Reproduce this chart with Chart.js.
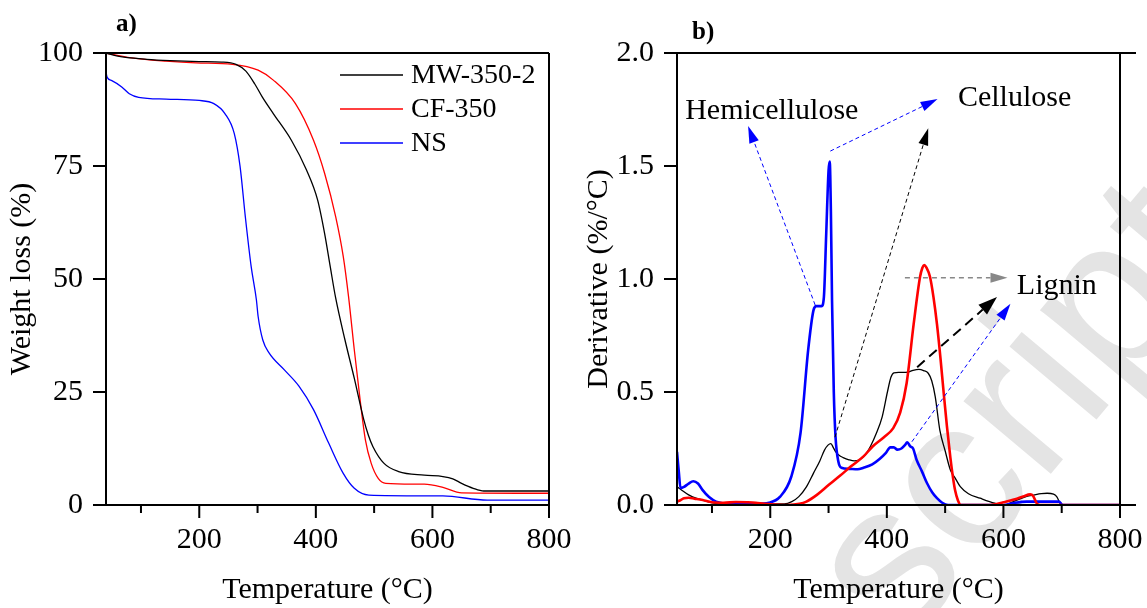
<!DOCTYPE html>
<html>
<head>
<meta charset="utf-8">
<script src="https://cdn.jsdelivr.net/npm/chart.js@4.4.1/dist/chart.umd.min.js"></script>
<style>
  html, body { margin: 0; padding: 0; background: #fff; }
  #wrap { position: relative; width: 1147px; height: 608px; overflow: hidden; }
  canvas { position: absolute; top: 0; }
  #tga { left: 0; }
  #dtg { left: 573px; }
</style>
</head>
<body>
<div id="wrap">
  <canvas id="tga" width="573" height="608"></canvas>
  <canvas id="dtg" width="574" height="608"></canvas>
</div>
<script>
// ---- a) TGA weight loss (%) ----
const mwTgaT = [40, 60, 110, 150, 200, 238, 263, 280, 295, 308, 327, 358, 384, 403, 415, 425, 434, 450, 466, 482, 490, 498, 517, 542, 586, 618, 635, 650, 670, 688, 800];
const mwTgaW = [100, 99.3, 98.6, 98.3, 98.1, 98.0, 97.5, 96.0, 93.2, 90.3, 86.6, 80.7, 74.1, 67.5, 60.1, 52.5, 45.8, 36.5, 28.0, 19.0, 15.5, 12.9, 9.2, 7.4, 6.6, 6.3, 5.8, 4.8, 3.7, 3.1, 3.1];

const cfTgaT = [40, 80, 143, 194, 257, 301, 327, 365, 396, 415, 434, 447, 456, 466, 476, 485, 495, 507, 520, 586, 618, 650, 800];
const cfTgaW = [100, 99.0, 98.2, 97.8, 97.5, 96.2, 94.0, 88.8, 80.7, 73.4, 63.8, 55.0, 46.2, 34.3, 23.2, 14.4, 9.2, 5.9, 4.8, 4.6, 3.9, 2.7, 2.6];

const nsTgaT = [40, 42, 50, 67, 80, 96, 143, 200, 225, 244, 260, 270, 279, 289, 298, 301, 309, 320, 346, 371, 396, 422, 447, 466, 491, 618, 694, 800];
const nsTgaW = [95.8, 94.6, 93.9, 92.5, 91.0, 90.2, 89.8, 89.5, 88.8, 86.6, 82.2, 74.9, 63.8, 52.8, 45.4, 41.7, 36.5, 33.6, 29.9, 26.3, 21.1, 13.7, 7.0, 3.7, 2.2, 2.0, 1.1, 1.1];

// ---- b) DTG derivative (%/°C) ----
const mwDtgT = [40, 46, 60, 75, 97, 110, 150, 200, 224, 237, 249, 262, 274, 285, 293, 299, 304, 308, 312, 318, 325, 335, 344, 353, 363, 372, 382, 392, 401, 407, 412, 420, 428, 436, 445, 455, 463, 471, 477, 483, 491, 500, 509, 517, 526, 540, 560, 585, 600, 623, 640, 652, 665, 675, 686, 692, 697, 703, 800];
const mwDtgD = [0.08, 0.07, 0.045, 0.028, 0.012, 0.006, 0.005, 0.005, 0.005, 0.015, 0.037, 0.08, 0.14, 0.195, 0.243, 0.265, 0.272, 0.255, 0.236, 0.22, 0.21, 0.2, 0.195, 0.2, 0.222, 0.26, 0.317, 0.39, 0.5, 0.565, 0.585, 0.587, 0.587, 0.588, 0.596, 0.6, 0.595, 0.583, 0.55, 0.48, 0.33, 0.24, 0.155, 0.12, 0.081, 0.05, 0.03, 0.008, 0.0, 0.022, 0.038, 0.044, 0.05, 0.052, 0.048, 0.035, 0.008, 0.0, 0.0];

const cfDtgT = [40, 45, 52, 60, 70, 84, 100, 120, 141, 160, 175, 190, 210, 230, 250, 262, 280, 300, 320, 338, 360, 376, 395, 411, 423, 434, 446, 457, 461, 464, 468, 474, 480, 486, 492, 497, 503, 509, 513, 517, 522, 527, 540, 577, 600, 620, 634, 646, 651, 657, 663, 700, 800];
const cfDtgD = [0.015, 0.02, 0.03, 0.032, 0.028, 0.022, 0.012, 0.01, 0.013, 0.012, 0.01, 0.005, 0.002, 0.0, 0.005, 0.015, 0.045, 0.088, 0.13, 0.17, 0.215, 0.26, 0.30, 0.34, 0.41, 0.54, 0.80, 1.01, 1.05, 1.062, 1.05, 1.01, 0.92, 0.80, 0.65, 0.51, 0.35, 0.21, 0.13, 0.066, 0.02, 0.0, 0.0, 0.0, 0.012, 0.025, 0.038, 0.047, 0.04, 0.008, 0.0, 0.0, 0.0];

const nsDtgT = [40, 43, 46, 52, 60, 68, 76, 84, 95, 107, 130, 175, 198, 217, 236, 252, 265, 274, 279, 288, 292, 296, 300, 302, 304, 306, 309, 312, 317, 322, 335, 350, 360, 375, 388, 398, 406, 412, 418, 425, 431, 435, 440, 445, 451, 460, 469, 478, 486, 495, 505, 600, 620, 640, 695, 702, 710, 800];
const nsDtgD = [0.235, 0.15, 0.075, 0.08, 0.095, 0.105, 0.095, 0.066, 0.035, 0.015, 0.005, 0.005, 0.010, 0.037, 0.125, 0.32, 0.685, 0.86, 0.88, 0.88, 0.92, 1.2, 1.48, 1.52, 1.3, 0.9, 0.5, 0.3, 0.19, 0.165, 0.16, 0.158, 0.165, 0.18, 0.205, 0.23, 0.255, 0.255, 0.245, 0.25, 0.265, 0.277, 0.26, 0.25, 0.20, 0.15, 0.096, 0.055, 0.03, 0.01, 0.0, 0.0, 0.01, 0.015, 0.015, 0.0, 0.0, 0.0];

const xTicks = [100, 200, 300, 400, 500, 600, 700, 800];
const tgaTicks = [0, 25, 50, 75, 100];
const dtgTicks = [0, 0.5, 1.0, 1.5, 2.0];

// annotations on panel b (data units)
const arrows = [
  { from: [277, 0.885], to: [162, 1.677], color: '#0000ff', width: 1, dash: [4, 3] },
  { from: [303, 1.566], to: [487, 1.796], color: '#0000ff', width: 1, dash: [4, 3] },
  { from: [311, 0.30], to: [471, 1.667], color: '#000000', width: 1, dash: [4, 3] },
  { from: [431, 1.006], to: [607, 1.006], color: '#888888', width: 1.5, dash: [5, 4] },
  { from: [452, 0.61], to: [589, 0.92], color: '#000000', width: 2, dash: [10, 6] },
  { from: [443, 0.28], to: [612, 0.89], color: '#0000ff', width: 1, dash: [4, 3] }
];
const notes = [
  { text: 'Hemicellulose', at: [54, 1.708] },
  { text: 'Cellulose', at: [522, 1.765] },
  { text: 'Lignin', at: [623, 0.934] }
];

const SERIF = '"Liberation Serif", "Times New Roman", serif';
Chart.defaults.font.family = SERIF;
Chart.defaults.color = '#000';

const pts = (xs, ys) => xs.map((x, i) => ({ x, y: ys[i] }));

function series(label, xs, ys, color, width) {
  return {
    label, data: pts(xs, ys), borderColor: color, backgroundColor: color,
    borderWidth: width, pointRadius: 0, fill: false, cubicInterpolationMode: 'monotone'
  };
}

// box, x ticks (major/minor) and panel letter
const frame = {
  id: 'frame',
  afterDraw(chart, args, opts) {
    const { ctx, chartArea: a, scales } = chart;
    const ext = opts.overhang || 0;
    ctx.save();
    ctx.strokeStyle = '#000';
    ctx.lineWidth = 2;
    ctx.beginPath();
    ctx.moveTo(a.left, a.top); ctx.lineTo(a.right + ext, a.top);
    ctx.moveTo(a.left, a.bottom); ctx.lineTo(a.right + ext, a.bottom);
    ctx.moveTo(a.left, a.top); ctx.lineTo(a.left, a.bottom);
    ctx.moveTo(a.right, a.top); ctx.lineTo(a.right, a.bottom);
    xTicks.forEach(v => {
      const px = scales.x.getPixelForValue(v);
      ctx.moveTo(px, a.bottom);
      ctx.lineTo(px, a.bottom + (v % 200 === 0 ? 13 : 8));
    });
    ctx.stroke();
    ctx.fillStyle = '#000';
    ctx.font = 'bold 25px ' + SERIF;
    ctx.fillText(opts.label, a.left + opts.labelDx, opts.labelY);
    ctx.restore();
  }
};

const insideLegend = {
  id: 'insideLegend',
  afterDraw(chart) {
    const { ctx, chartArea: a } = chart;
    ctx.save();
    ctx.font = '28px ' + SERIF;
    ctx.textBaseline = 'middle';
    chart.data.datasets.forEach((ds, i) => {
      const y = a.top + 22 + i * 34;
      const x0 = a.right - 209;
      ctx.strokeStyle = ds.borderColor;
      ctx.lineWidth = 1.3;
      ctx.beginPath(); ctx.moveTo(x0, y); ctx.lineTo(x0 + 63, y); ctx.stroke();
      ctx.fillStyle = '#000';
      ctx.fillText(ds.label, x0 + 71, y + 1);
    });
    ctx.restore();
  }
};

const watermark = {
  id: 'watermark',
  beforeDraw(chart) {
    const ctx = chart.ctx;
    ctx.save();
    ctx.fillStyle = '#e4e4e4';
    ctx.font = '215px "Liberation Sans", Arial, sans-serif';
    ctx.translate(330, 650);
    ctx.rotate(-50 * Math.PI / 180);
    ctx.fillText('script', 0, 0);
    ctx.restore();
  }
};

const annotate = {
  id: 'annotate',
  afterDatasetsDraw(chart) {
    const { ctx, scales: { x, y } } = chart;
    ctx.save();
    arrows.forEach(ar => {
      const x1 = x.getPixelForValue(ar.from[0]), y1 = y.getPixelForValue(ar.from[1]);
      const x2 = x.getPixelForValue(ar.to[0]), y2 = y.getPixelForValue(ar.to[1]);
      const ang = Math.atan2(y2 - y1, x2 - x1);
      const L = ar.width > 1.6 ? 19 : 17, H = ar.width > 1.6 ? 6.5 : 5;
      const bx = x2 - L * Math.cos(ang), by = y2 - L * Math.sin(ang);
      ctx.strokeStyle = ar.color;
      ctx.fillStyle = ar.color;
      ctx.lineWidth = ar.width;
      ctx.setLineDash(ar.dash);
      ctx.beginPath(); ctx.moveTo(x1, y1); ctx.lineTo(bx, by); ctx.stroke();
      ctx.setLineDash([]);
      ctx.beginPath();
      ctx.moveTo(x2, y2);
      ctx.lineTo(bx + H * Math.sin(ang), by - H * Math.cos(ang));
      ctx.lineTo(bx - H * Math.sin(ang), by + H * Math.cos(ang));
      ctx.closePath(); ctx.fill();
    });
    ctx.fillStyle = '#000';
    ctx.font = '30px ' + SERIF;
    ctx.textBaseline = 'alphabetic';
    notes.forEach(n => ctx.fillText(n.text, x.getPixelForValue(n.at[0]), y.getPixelForValue(n.at[1])));
    ctx.restore();
  }
};

function xAxis() {
  return {
    type: 'linear', min: 40, max: 800,
    afterBuildTicks: s => { s.ticks = xTicks.map(v => ({ value: v })); },
    afterFit: s => { s.height = 103; s.paddingLeft = 0; s.paddingRight = 0; },
    grid: { display: true, drawOnChartArea: false, drawTicks: false },
    border: { display: true, color: '#000', width: 2 },
    ticks: { padding: 17, maxRotation: 0, autoSkip: false, font: { size: 30 },
      callback: v => (v % 200 === 0 ? String(v) : '') },
    title: { display: true, text: 'Temperature (°C)', font: { size: 30 }, padding: { top: 0, bottom: 0 } }
  };
}

function yAxis(vals, width, title, pad, fmt) {
  return {
    type: 'linear', min: vals[0], max: vals[vals.length - 1],
    afterBuildTicks: s => { s.ticks = vals.map(v => ({ value: v })); },
    afterFit: s => { s.width = width; s.paddingTop = 0; s.paddingBottom = 0; },
    grid: { display: true, drawOnChartArea: false, drawTicks: true, tickLength: 13, lineWidth: 2, color: '#000' },
    border: { display: true, color: '#000', width: 2 },
    ticks: { padding: 10, font: { size: 30 }, callback: fmt },
    title: { display: true, text: title, font: { size: 30 }, padding: { top: pad, bottom: 0 } }
  };
}

new Chart(document.getElementById('tga'), {
  type: 'line',
  data: {
    datasets: [
      series('MW-350-2', mwTgaT, mwTgaW, '#000000', 1.3),
      series('CF-350', cfTgaT, cfTgaW, '#ff0000', 1.3),
      series('NS', nsTgaT, nsTgaW, '#0000ff', 1.3)
    ]
  },
  options: {
    responsive: false, animation: false,
    layout: { padding: { top: 53, right: 24, bottom: 0, left: 0 } },
    plugins: { legend: { display: false }, tooltip: { enabled: false },
      frame: { label: 'a)', labelDx: 10, labelY: 31, overhang: 0 } },
    scales: { x: xAxis(), y: yAxis(tgaTicks, 106, 'Weight loss (%)', 4, v => String(v)) }
  },
  plugins: [frame, insideLegend]
});

new Chart(document.getElementById('dtg'), {
  type: 'line',
  data: {
    datasets: [
      series('CF-350', cfDtgT, cfDtgD, '#ff0000', 2.6),
      series('NS', nsDtgT, nsDtgD, '#0000ff', 2.6),
      series('MW-350-2', mwDtgT, mwDtgD, '#000000', 1.3)
    ]
  },
  options: {
    responsive: false, animation: false,
    layout: { padding: { top: 53, right: 27, bottom: 0, left: 0 } },
    plugins: { legend: { display: false }, tooltip: { enabled: false },
      frame: { label: 'b)', labelDx: 15, labelY: 39, overhang: 16 } },
    scales: { x: xAxis(), y: yAxis(dtgTicks, 104, 'Derivative (%/°C)', 8, v => Number(v).toFixed(1)) }
  },
  plugins: [watermark, frame, annotate]
});
</script>
</body>
</html>
